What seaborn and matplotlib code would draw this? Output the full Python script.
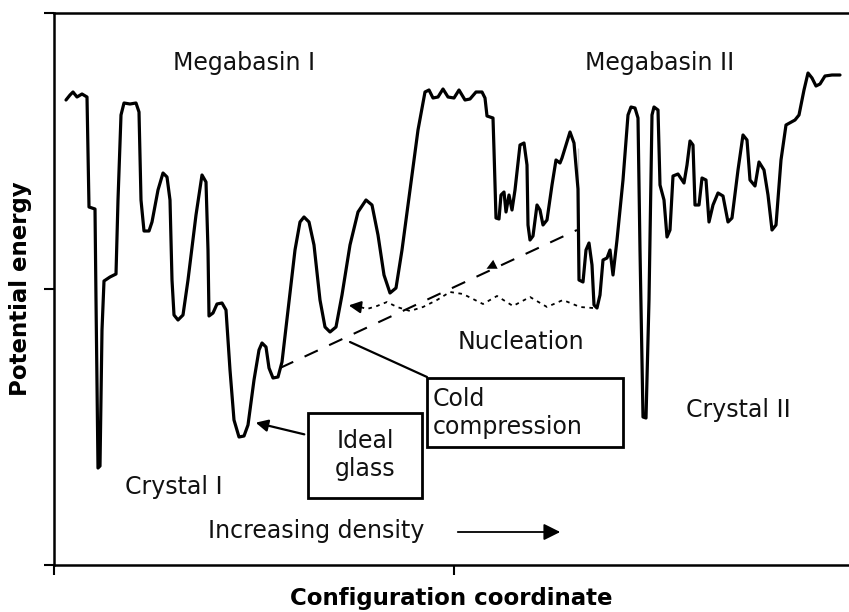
import matplotlib
matplotlib.use("Agg")
import numpy as np
import pandas as pd
import matplotlib.pyplot as plt
import seaborn as sns
from matplotlib.patches import Rectangle

# potential energy landscape (arbitrary units)
coord = [12, 16, 19, 23, 28, 33, 34, 35, 41, 42, 44, 46, 48, 50, 56, 62, 64, 67, 70, 76,
         82, 85, 87, 90, 95, 98, 104, 109, 113, 116, 118, 120, 124, 129, 134, 142, 148, 152, 154, 155,
         159, 163, 168, 172, 176, 180, 185, 190, 194, 200, 205, 208, 212, 215, 219, 224, 228, 234, 241, 246,
         250, 255, 260, 266, 271, 276, 282, 288, 296, 304, 312, 318, 324, 330, 336, 342, 348, 356, 364, 371,
         375, 379, 384, 389, 394, 400, 405, 411, 416, 422, 428, 431, 433, 439, 440, 442, 445, 447, 450, 452,
         455, 458, 461, 466, 470, 473, 474, 476, 479, 483, 486, 489, 493, 498, 502, 506, 508, 512, 516, 520,
         524, 524, 525, 529, 532, 535, 538, 540, 543, 546, 549, 553, 556, 559, 563, 569, 574, 577, 581, 584,
         586, 589, 592, 595, 598, 600, 604, 606, 610, 613, 616, 619, 624, 630, 633, 636, 639, 641, 645, 648,
         652, 655, 659, 664, 669, 674, 678, 684, 689, 693, 696, 701, 705, 710, 714, 718, 722, 727, 732, 741,
         745, 750, 754, 758, 762, 766, 771, 778, 786]
energy = [465, 470, 473, 468, 471, 468, 415, 358, 356, 265, 97, 99, 235, 284, 288, 291, 365, 450, 462, 461,
          462, 453, 365, 334, 334, 343, 375, 392, 388, 365, 285, 250, 245, 250, 285, 350, 390, 383, 315, 249,
          252, 261, 262, 255, 195, 145, 128, 129, 140, 185, 215, 222, 218, 197, 187, 188, 203, 255, 315, 343,
          348, 343, 320, 265, 238, 233, 238, 270, 320, 353, 365, 360, 330, 290, 272, 277, 315, 375, 435, 473,
          475, 467, 468, 476, 468, 467, 475, 465, 466, 473, 473, 467, 449, 447, 415, 347, 346, 370, 373, 353,
          370, 355, 375, 420, 422, 400, 340, 325, 329, 360, 355, 340, 345, 380, 405, 402, 407, 420, 433, 422,
          417, 335, 285, 283, 315, 322, 300, 260, 257, 270, 305, 307, 315, 290, 325, 385, 450, 458, 457, 447,
          315, 148, 147, 265, 450, 458, 455, 380, 365, 328, 335, 389, 391, 382, 400, 424, 420, 360, 360, 387,
          385, 343, 360, 372, 369, 343, 347, 395, 430, 425, 385, 379, 403, 395, 370, 335, 340, 405, 440, 445,
          450, 475, 492, 487, 479, 481, 489, 490, 490]

# cold compression path (dashed)
comp_coord = [226, 523]
comp_energy = [197, 335]

# nucleation path (dotted, runs right to left)
nuc_coord = [539, 526, 509, 493, 476, 459, 443, 429, 409, 396, 383, 369, 356, 343, 333, 323, 313, 303]
nuc_energy = [257, 258, 265, 258, 268, 259, 269, 261, 271, 273, 265, 258, 254, 258, 263, 259, 256, 259]

labels = ["Megabasin I", "Megabasin II", "Crystal I", "Crystal II", "Nucleation"]
label_x = [190, 606, 120, 684, 467]
label_y = [502, 502, 78, 155, 223]

sns.set_style("ticks")
plt.rcParams['font.family'] = ['DejaVu Sans']

fig = plt.figure(figsize=(8.49, 6.12), dpi=100)
ax = fig.add_axes([54 / 849, 47 / 612, 795 / 849, 552 / 612])

df = pd.DataFrame({'coord': coord, 'energy': energy})
sns.lineplot(data=df, x='coord', y='energy', sort=False, color='black', lw=2.3, ax=ax)

# cold compression
sns.lineplot(x=comp_coord, y=comp_energy, color='black', lw=1.5, ax=ax,
             linestyle=(0, (7, 6)))
mx, my = 436, 298
ax.annotate('', xy=(mx - 6, my - 3), xytext=(mx + 4, my + 2),
            arrowprops=dict(arrowstyle='-|>', color='black', lw=0, mutation_scale=18))

# nucleation
sns.lineplot(x=nuc_coord, y=nuc_energy, sort=False, color='black', lw=1.3, ax=ax,
             linestyle=(0, (2, 2.5)))
ax.annotate('', xy=(292, 260), xytext=(306, 258),
            arrowprops=dict(arrowstyle='-|>', color='black', lw=1.5, mutation_scale=18))

for t, x, y in zip(labels, label_x, label_y):
    ax.text(x, y, t, ha='center', va='center', fontsize=17, color='#111111')

# increasing density arrow
ax.text(262, 34, 'Increasing density', ha='center', va='center', fontsize=17, color='#111111')
ax.annotate('', xy=(509, 33), xytext=(401, 33),
            arrowprops=dict(arrowstyle='-|>', color='black', lw=1.3, mutation_scale=25))

# ideal glass box + arrow
ax.add_patch(Rectangle((254, 67), 114, 85, fill=False, lw=2, ec='black'))
ax.text(311, 110, 'Ideal\nglass', ha='center', va='center', fontsize=17,
        color='#111111', linespacing=1.25)
ax.annotate('', xy=(199, 143), xytext=(253, 130),
            arrowprops=dict(arrowstyle='-|>', color='black', lw=1.6, mutation_scale=18))

# cold compression box + pointer
ax.add_patch(Rectangle((373, 118), 196, 69, fill=False, lw=2, ec='black'))
ax.text(379, 152, 'Cold\ncompression', ha='left', va='center', fontsize=17,
        color='#111111', linespacing=1.2)
ax.plot([296, 373], [223, 188], color='black', lw=1.6)

ax.set_xlim(0, 795)
ax.set_ylim(0, 552)
ax.set_xticks([0, 400])
ax.set_yticks([0, 276, 552])
ax.set_xticklabels([])
ax.set_yticklabels([])
ax.tick_params(axis='both', direction='out', length=7, width=1.5, color='black')
for s in ['left', 'bottom', 'top']:
    ax.spines[s].set_linewidth(1.8)
    ax.spines[s].set_color('black')
ax.spines['right'].set_visible(False)

ax.set_xlabel('Configuration coordinate', fontsize=16.5, fontweight='bold',
              labelpad=5, color='black')
ax.set_ylabel('Potential energy', fontsize=16.5, fontweight='bold',
              labelpad=5, color='black')

fig.savefig('out.png', dpi=100)
